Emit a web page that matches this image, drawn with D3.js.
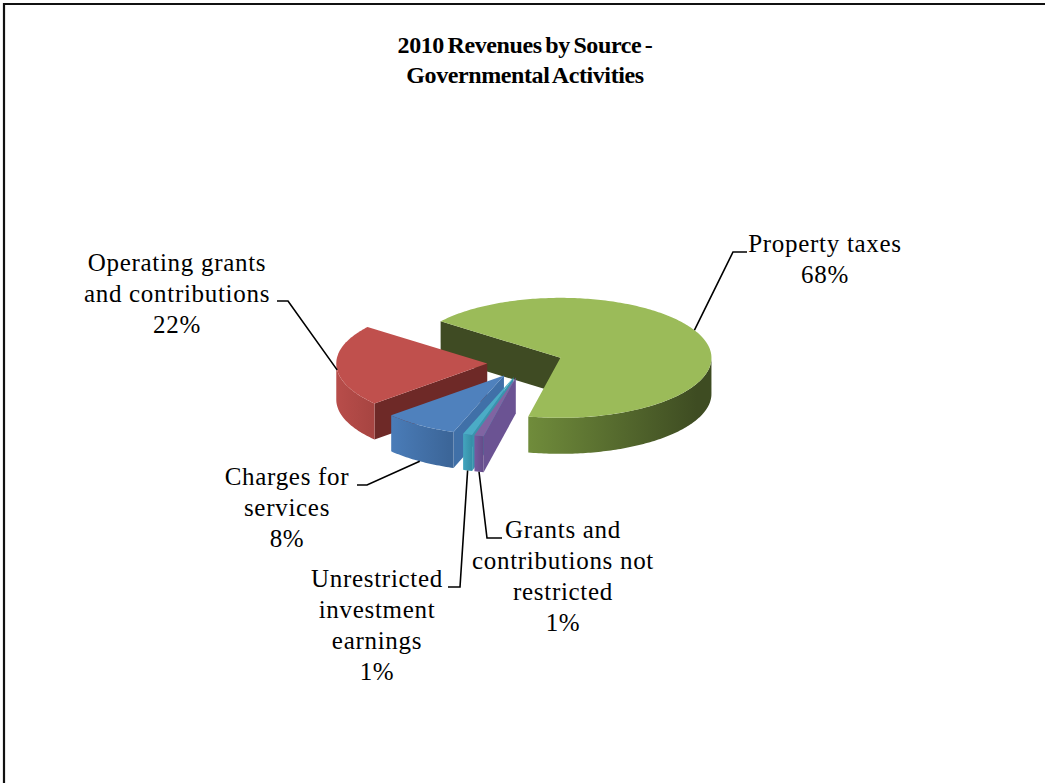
<!DOCTYPE html>
<html>
<head>
<meta charset="utf-8">
<script src="https://cdn.jsdelivr.net/npm/d3@7"></script>
<style>
  html, body { margin: 0; padding: 0; background: #ffffff; }
  svg { display: block; }
</style>
</head>
<body>
<svg id="chart" width="1045" height="783"></svg>
<script>
// ---- data ----
const categories = [
  "Property taxes",
  "Grants and contributions not restricted",
  "Unrestricted investment earnings",
  "Charges for services",
  "Operating grants and contributions"
];
const shares = [68, 1, 1, 8, 22];
const labelLines = [
  ["Property taxes"],
  ["Grants and", "contributions not", "restricted"],
  ["Unrestricted", "investment", "earnings"],
  ["Charges for", "services"],
  ["Operating grants", "and contributions"]
];
const titleLines = ["2010 Revenues by Source -", "Governmental Activities"];

// ---- palette (top face, outer wall light/dark, cut face) ----
const topColors  = ["#9BBB59", "#8064A2", "#4BACC6", "#4F81BD", "#C0504D"];
const wallLight  = ["#708C3B", "#7659A0", "#43A5BE", "#4A7CB8", "#B84D4A"];
const wallDark   = ["#3E4C22", "#654D8A", "#3690A8", "#3C6699", "#A84542"];
const faceColors = ["#3F4B23", "#6B5393", "#3895AD", "#4070A8", "#6E2927"];

// ---- layout ----
const W = 1045, H = 783;
const cx = 525, cy = 363;        // pie centre on screen
const rx = 151, ry = 60;         // projected radii of the tilted disc
const depth = 36;                // wall height
const explode = 0.25;            // offset of each slice, as fraction of radius
const deg = Math.PI / 180;

// unit-circle -> screen scales
const sx = d3.scaleLinear().domain([-1, 1]).range([-rx, rx]);
const sy = d3.scaleLinear().domain([-1, 1]).range([ry, -ry]);

const pie = d3.pie().sort(null).value(d => d)
  .startAngle(-52.5 * deg).endAngle(-52.5 * deg + 2 * Math.PI);
const arcs = pie(shares);

// label placement: first baseline, anchor on rim (angle within slice 0..1, top/bottom), elbow & tail of leader
const labelLayout = [
  { x: 825, y: 252, t: 0.47, bottom: false, elbow: [733, 252], tail: [747, 252] },
  { x: 563, y: 538, t: 0.5,  bottom: true,  elbow: [487, 538], tail: [502, 538] },
  { x: 377, y: 587, t: 0.5,  bottom: true,  elbow: [460, 587], tail: [448, 587] },
  { x: 287, y: 485, t: 0.5,  bottom: true,  elbow: [367, 485], tail: [357, 485] },
  { x: 177, y: 271, t: 0.45, bottom: false, elbow: [288, 301], tail: [277, 301] }
];

const svg = d3.select("#chart");
const defs = svg.append("defs");

svg.append("rect").attr("width", W).attr("height", H).attr("fill", "#ffffff");

// chart frame (left and top edges show inside the page)
svg.append("path")
  .attr("d", `M4,${H + 5}L4,4L${W + 5},4`)
  .attr("fill", "none").attr("stroke", "#111").attr("stroke-width", 2.2);

// slice geometry
const slices = arcs.map((a, i) => {
  const mid = (a.startAngle + a.endAngle) / 2;
  const ox = cx + explode * sx(Math.sin(mid));
  const oy = cy + explode * sy(Math.cos(mid));
  const pt = (ang, z, r = 1) => [ox + r * sx(Math.sin(ang)), oy + r * sy(Math.cos(ang)) + z];
  return { a, i, mid, ox, oy, pt };
});

const line = d3.line();
function arcPoints(s, a0, a1, z) {
  const n = Math.max(2, Math.ceil((a1 - a0) / (1 * deg)));
  return d3.range(n + 1).map(k => s.pt(a0 + (a1 - a0) * k / n, z));
}

// painter's order: back slices first
const order = slices.slice().sort((p, q) => p.oy - q.oy);
const g = svg.append("g");

order.forEach(s => {
  const { a, i } = s;
  const a0 = a.startAngle, a1 = a.endAngle;
  const sg = g.append("g");

  // cut faces along the radii that face the viewer
  const faces = [];
  if (Math.sin(a0) < 0) faces.push(a0);
  if (Math.sin(a1) > 0) faces.push(a1);
  faces.forEach(ang => {
    const pts = [[s.ox, s.oy], s.pt(ang, 0), s.pt(ang, depth), [s.ox, s.oy + depth]];
    sg.append("path").attr("d", line(pts) + "Z").attr("fill", faceColors[i]);
  });

  // outer wall on the near half of the disc
  const t0 = Math.max(a0, Math.PI / 2), t1 = Math.min(a1, 3 * Math.PI / 2);
  if (t0 < t1) {
    const topArc = arcPoints(s, t0, t1, 0);
    const botArc = arcPoints(s, t0, t1, depth).reverse();
    const xs = topArc.map(p => p[0]);
    const gid = "wall" + i;
    const grad = defs.append("linearGradient").attr("id", gid)
      .attr("gradientUnits", "userSpaceOnUse")
      .attr("x1", d3.min(xs)).attr("x2", d3.max(xs)).attr("y1", 0).attr("y2", 0);
    grad.append("stop").attr("offset", "0%").attr("stop-color", wallLight[i]);
    grad.append("stop").attr("offset", "92%").attr("stop-color", wallDark[i]);
    grad.append("stop").attr("offset", "100%").attr("stop-color", wallDark[i]);
    sg.append("path").attr("d", line(topArc.concat(botArc)) + "Z").attr("fill", `url(#${gid})`);
  }

  // top face
  const topPts = [[s.ox, s.oy]].concat(arcPoints(s, a0, a1, 0));
  sg.append("path").attr("d", line(topPts) + "Z").attr("fill", topColors[i]);
});

// leader lines and labels
const fmt = d3.format(".0%");
const labelFont = "'Liberation Serif', 'Times New Roman', serif";
slices.forEach(s => {
  const L = labelLayout[s.i];
  const ang = s.a.startAngle + (s.a.endAngle - s.a.startAngle) * L.t;
  const anchor = s.pt(ang, L.bottom ? depth : 0);
  svg.append("path")
    .attr("d", line([anchor, L.elbow, L.tail]))
    .attr("fill", "none").attr("stroke", "#000").attr("stroke-width", 1.6);

  const lines = labelLines[s.i].concat([fmt(shares[s.i] / 100)]);
  const t = svg.append("text")
    .attr("x", L.x).attr("y", L.y)
    .attr("text-anchor", "middle")
    .attr("font-family", labelFont)
    .attr("font-size", 25)
    .attr("letter-spacing", 0.7)
    .attr("fill", "#000");
  lines.forEach((txt, k) => {
    t.append("tspan").attr("x", L.x).attr("y", L.y + k * 31).text(txt);
  });
});

// title
const title = svg.append("text")
  .attr("text-anchor", "middle")
  .attr("font-family", labelFont)
  .attr("font-weight", "bold")
  .attr("font-size", 24)
  .attr("word-spacing", -2)
  .attr("letter-spacing", -0.4)
  .attr("fill", "#000");
titleLines.forEach((txt, k) => {
  title.append("tspan").attr("x", 525).attr("y", 53 + k * 30).text(txt);
});
</script>
</body>
</html>
